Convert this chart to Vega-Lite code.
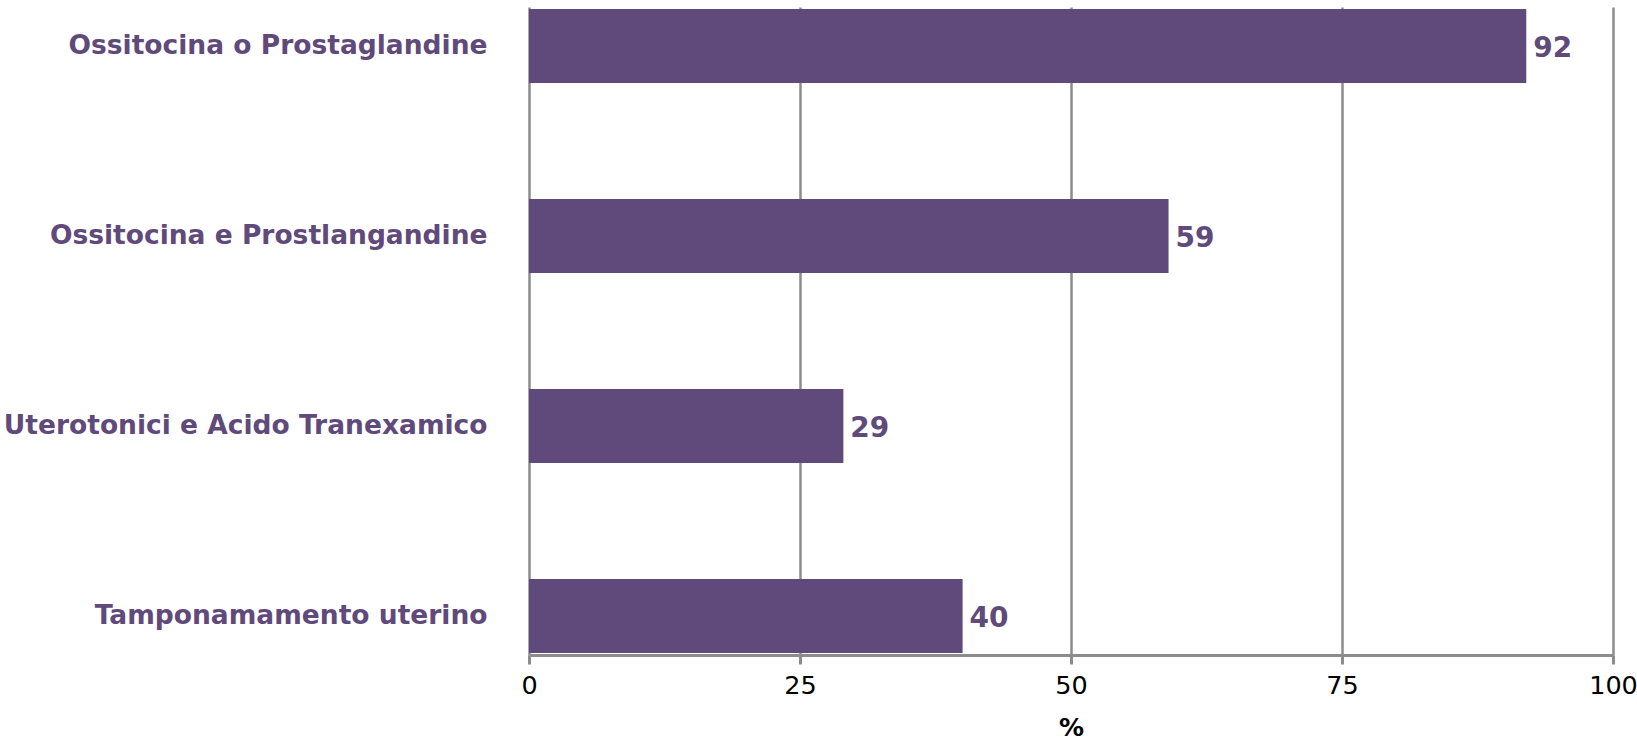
{
  "$schema": "https://vega.github.io/schema/vega-lite/v6.json",
  "autosize": {"type": "none"},
  "width": 1084,
  "height": 648,
  "padding": {"left": 529, "top": 7, "right": 24, "bottom": 89},
  "background": "white",
  "config": {"view": {"stroke": null}, "font": "DejaVu Sans"},
  "data": {"values": [
    {"voce": "Ossitocina o Prostaglandine", "pct": 92},
    {"voce": "Ossitocina e Prostlangandine", "pct": 59},
    {"voce": "Uterotonici e Acido Tranexamico", "pct": 29},
    {"voce": "Tamponamamento uterino", "pct": 40}
  ]},
  "encoding": {
    "y": {
      "field": "voce", "type": "nominal", "sort": null,
      "scale": {"paddingInner": 0.61, "paddingOuter": 0.01},
      "axis": {
        "title": null, "ticks": false, "domain": false, "grid": false,
        "labelFont": "DejaVu Sans", "labelFontWeight": "bold", "labelFontSize": 26.5,
        "labelColor": "#604A7B", "labelPadding": 42, "labelLimit": 600
      }
    },
    "x": {
      "field": "pct", "type": "quantitative",
      "scale": {"domain": [0, 100], "nice": false},
      "axis": {
        "values": [0, 25, 50, 75, 100], "title": "%",
        "titleFont": "DejaVu Sans", "titleFontSize": 25, "titleFontWeight": "bold",
        "titleColor": "#000000", "titlePadding": 17,
        "labelFont": "DejaVu Sans", "labelFontSize": 25.5, "labelColor": "#000000",
        "labelPadding": 9, "labelFlush": false,
        "domainColor": "#8C8C8C", "domainWidth": 3,
        "tickColor": "#8C8C8C", "tickWidth": 3, "tickSize": 9,
        "grid": true, "gridColor": "#8C8C8C", "gridWidth": 2.5
      }
    }
  },
  "layer": [
    {"mark": {"type": "bar", "color": "#604A7B"}},
    {
      "mark": {"type": "text", "align": "left", "baseline": "middle", "dx": 7, "dy": 3,
               "font": "DejaVu Sans", "fontWeight": "bold", "fontSize": 28, "color": "#604A7B"},
      "encoding": {"text": {"field": "pct", "type": "quantitative"}}
    }
  ]
}
